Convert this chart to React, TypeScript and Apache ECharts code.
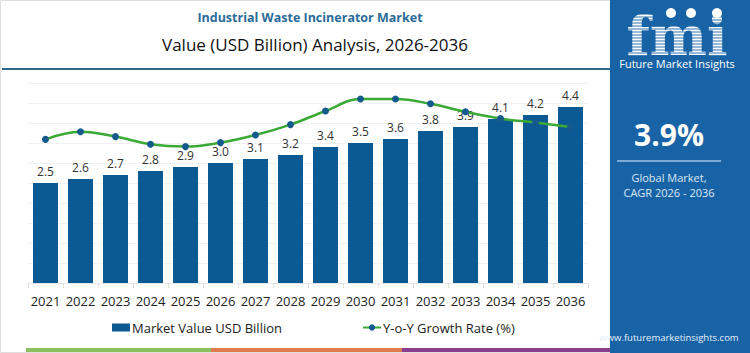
import React, { useEffect, useRef } from "react";
import * as echarts from "echarts";

const years = ["2021","2022","2023","2024","2025","2026","2027","2028","2029","2030","2031","2032","2033","2034","2035","2036"];
const marketValue = [2.5, 2.6, 2.7, 2.8, 2.9, 3.0, 3.1, 3.2, 3.4, 3.5, 3.6, 3.8, 3.9, 4.1, 4.2, 4.4];
const yoyGrowth = [3.59, 3.78, 3.66, 3.47, 3.41, 3.51, 3.70, 3.96, 4.30, 4.60, 4.60, 4.48, 4.28, 4.11, 4.01, 3.90];
const chartTitle = "Industrial Waste Incinerator Market";
const chartSubtitle = "Value (USD Billion) Analysis, 2026-2036";
const cagrText = "3.9%";
const cagrLabel1 = "Global Market,";
const cagrLabel2 = "CAGR 2026 - 2036";
const seriesNames = ["Market Value USD Billion", "Y-o-Y Growth Rate (%)"];

const FONT = "'Open Sans', 'Noto Sans', sans-serif";
const BAR = "#0c5a94";
const PANEL = "#1863a6";
const GREEN = "#3aa935";

export default function App() {
  const ref = useRef<HTMLDivElement>(null);
  useEffect(() => {
    if (!ref.current) return;
    const chart = echarts.init(ref.current, null, { renderer: "svg" });
    const stripes: any[] = [];
    for (let y = 14; y <= 56; y += 3) {
      stripes.push({
        type: "line",
        shape: { x1: 622, y1: y, x2: 736, y2: y },
        style: { stroke: PANEL, lineWidth: 0.9 },
        z: 20,
      });
    }
    chart.setOption({
      animation: false,
      textStyle: { fontFamily: FONT },
      grid: { left: 28, right: 162, top: 83, bottom: 70, containLabel: false },
      legend: {
        left: 107,
        top: 316,
        itemGap: 80,
        itemWidth: 18,
        itemHeight: 8,
        textStyle: { fontSize: 13, color: "#222", fontFamily: FONT, padding: [0, 0, 0, -3] },
        data: [
          { name: seriesNames[0], icon: "rect" },
          { name: seriesNames[1] },
        ],
      },
      xAxis: {
        type: "category",
        data: years,
        axisLine: { show: true, lineStyle: { color: "#e8e8e8" } },
        axisTick: { show: true, lineStyle: { color: "#e0e0e0" } },
        axisLabel: { color: "#222", fontSize: 13, margin: 11, interval: 0, fontFamily: FONT },
      },
      yAxis: [
        {
          type: "value",
          min: 0,
          max: 5,
          interval: 0.5,
          axisLabel: { show: false },
          axisLine: { show: false },
          axisTick: { show: false },
          splitLine: { lineStyle: { color: "#f0f1f3" } },
        },
        { type: "value", min: 0, max: 5, interval: 0.5, show: false, splitLine: { show: false } },
      ],
      series: [
        {
          name: seriesNames[0],
          type: "bar",
          data: marketValue,
          barWidth: 25,
          itemStyle: { color: BAR },
          label: {
            show: true,
            position: "top",
            distance: 6,
            color: "#333",
            fontSize: 12,
            fontFamily: FONT,
            formatter: (p: any) => Number(p.value).toFixed(1),
          },
        },
        {
          name: seriesNames[1],
          type: "line",
          yAxisIndex: 1,
          data: yoyGrowth,
          smooth: 0.4,
          symbol: "circle",
          symbolSize: 7,
          itemStyle: { color: "#145a8c" },
          lineStyle: { color: GREEN, width: 2.5 },
          z: 5,
        },
      ],
      graphic: [
        { type: "rect", shape: { x: 0.5, y: 0.5, width: 610, height: 352 }, style: { fill: "none", stroke: "#dedede", lineWidth: 1 }, z: 0 },
        { type: "text", x: 310, y: 17, style: { text: chartTitle, fill: "#2a6b98", font: `bold 12.5px ${FONT}`, textAlign: "center", textVerticalAlign: "middle" } },
        { type: "text", x: 315, y: 44, style: { text: chartSubtitle, fill: "#111", font: `17px ${FONT}`, textAlign: "center", textVerticalAlign: "middle" } },
        { type: "line", shape: { x1: 2, y1: 69, x2: 610, y2: 69 }, style: { stroke: "#2c6986", lineWidth: 2 } },
        { type: "rect", shape: { x: 26, y: 348, width: 185, height: 4 }, style: { fill: "#8dbf5f" } },
        { type: "rect", shape: { x: 211, y: 348, width: 191, height: 4 }, style: { fill: "#df7b4c" } },
        { type: "rect", shape: { x: 402, y: 348, width: 208, height: 4 }, style: { fill: "#8b3e8e" } },
        { type: "rect", shape: { x: 610, y: 0, width: 140, height: 353 }, style: { fill: PANEL }, z: 10 },
        { type: "text", x: 677, y: 36, style: { text: "fmi", fill: "#fff", font: `bold 54px 'DejaVu Serif', serif`, lineHeight: 26, textAlign: "center", textVerticalAlign: "middle" }, z: 15 },
        ...stripes,
        { type: "circle", shape: { cx: 671, cy: 13, r: 5 }, style: { fill: "#fff" }, z: 21 },
        { type: "circle", shape: { cx: 691, cy: 13, r: 5 }, style: { fill: "#fff" }, z: 21 },
        { type: "circle", shape: { cx: 717, cy: 13, r: 5 }, style: { fill: "#fff" }, z: 21 },
        { type: "text", x: 677, y: 63, style: { text: "Future Market Insights", fill: "#fff", font: `11px ${FONT}`, textAlign: "center", textVerticalAlign: "middle" }, z: 21 },
        { type: "text", x: 669, y: 134, style: { text: cagrText, fill: "#fff", font: `bold 30px ${FONT}`, textAlign: "center", textVerticalAlign: "middle" }, z: 21 },
        { type: "line", shape: { x1: 617, y1: 161, x2: 721, y2: 161 }, style: { stroke: "#9cc3e6", lineWidth: 1.5 }, z: 21 },
        { type: "text", x: 669, y: 177, style: { text: cagrLabel1, fill: "#dce9f5", font: `11px ${FONT}`, textAlign: "center", textVerticalAlign: "middle" }, z: 21 },
        { type: "text", x: 669, y: 192, style: { text: cagrLabel2, fill: "#dce9f5", font: `11px ${FONT}`, textAlign: "center", textVerticalAlign: "middle" }, z: 21 },
        { type: "text", x: 669, y: 337, style: { text: "www.futuremarketinsights.com", fill: "#e6eff8", font: `9.5px ${FONT}`, textAlign: "center", textVerticalAlign: "middle" }, z: 21 },
      ],
    });
    return () => chart.dispose();
  }, []);
  return <div ref={ref} style={{ width: 750, height: 353, position: "absolute", left: 0, top: 0 }} />;
}
